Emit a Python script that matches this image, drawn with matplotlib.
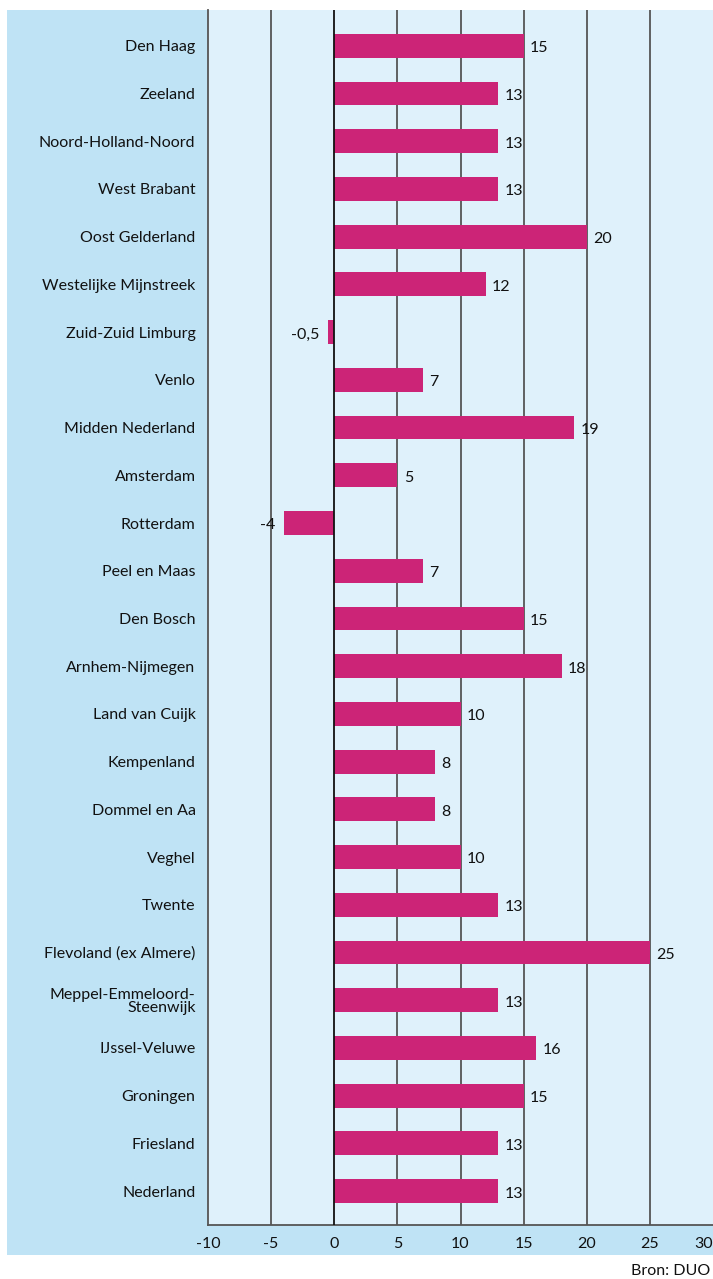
import matplotlib
matplotlib.use("Agg")
import matplotlib.pyplot as plt
from matplotlib.patches import Rectangle

# gegevens
regios = ["Den Haag", "Zeeland", "Noord-Holland-Noord", "West Brabant", "Oost Gelderland",
          "Westelijke Mijnstreek", "Zuid-Zuid Limburg", "Venlo", "Midden Nederland", "Amsterdam",
          "Rotterdam", "Peel en Maas", "Den Bosch", "Arnhem-Nijmegen", "Land van Cuijk",
          "Kempenland", "Dommel en Aa", "Veghel", "Twente", "Flevoland (ex Almere)",
          "Meppel-Emmeloord-\nSteenwijk", "IJssel-Veluwe", "Groningen", "Friesland", "Nederland"]
waarden = [15, 13, 13, 13, 20, 12, -0.5, 7, 19, 5, -4, 7, 15, 18, 10, 8, 8, 10, 13, 25,
           13, 16, 15, 13, 13]
xticks = [-10, -5, 0, 5, 10, 15, 20, 25, 30]

plt.rcParams['font.family'] = ['Lato', 'DejaVu Sans']

W, H = 713, 1279
fig = plt.figure(figsize=(W / 100, H / 100), dpi=100)

# achtergrond
achter = Rectangle((7 / W, 1 - 1255 / H), (W - 7) / W, (1255 - 10) / H,
                   transform=fig.transFigure, facecolor="#bfe3f5",
                   edgecolor="none", zorder=-10)
fig.add_artist(achter)

ax = fig.add_axes([208 / W, 1 - 1225 / H, (W - 208) / W, (1225 - 10) / H])
ax.set_zorder(1)
ax.set_facecolor("#dff1fb")

y = list(range(len(regios)))
ax.barh(y, waarden, height=0.5, color="#cc2477", zorder=3)

for yi, v in zip(y, waarden):
    tekst = str(v).replace(".", ",")
    if v >= 0:
        ax.text(v + 0.5, yi + 0.05, tekst, va="center", ha="left", fontsize=11.5,
                color="#111111")
    else:
        ax.text(v - 0.7, yi + 0.05, tekst, va="center", ha="right", fontsize=11.5,
                color="#111111")

ax.set_xlim(-10, 30)
ax.set_ylim(len(regios) - 1 + 0.71, -0.75)
ax.set_xticks(xticks)
ax.set_xticklabels([str(t) for t in xticks], fontsize=11.5, color="#111111")
ax.get_xticklabels()[-1].set_horizontalalignment("right")
ax.set_yticks(y)
ax.set_yticklabels(regios, fontsize=11.5, color="#111111", linespacing=0.95)
ax.tick_params(axis="x", length=0, pad=9)
ax.tick_params(axis="y", length=0, pad=9)

for t in xticks[1:-1]:
    kleur = "#111111" if t == 0 else "#555555"
    ax.axvline(t, color=kleur, lw=1.3, zorder=4 if t == 0 else 2)

for s in ["top", "right"]:
    ax.spines[s].set_visible(False)
ax.spines["left"].set_color("#555555")
ax.spines["left"].set_linewidth(1.3)
ax.spines["bottom"].set_color("#555555")
ax.spines["bottom"].set_linewidth(1.3)

fig.text(710 / W, 1 - 1271 / H, "Bron: DUO", ha="right", va="center", fontsize=11.5,
         color="#111111")

fig.savefig("out.png", dpi=100)
